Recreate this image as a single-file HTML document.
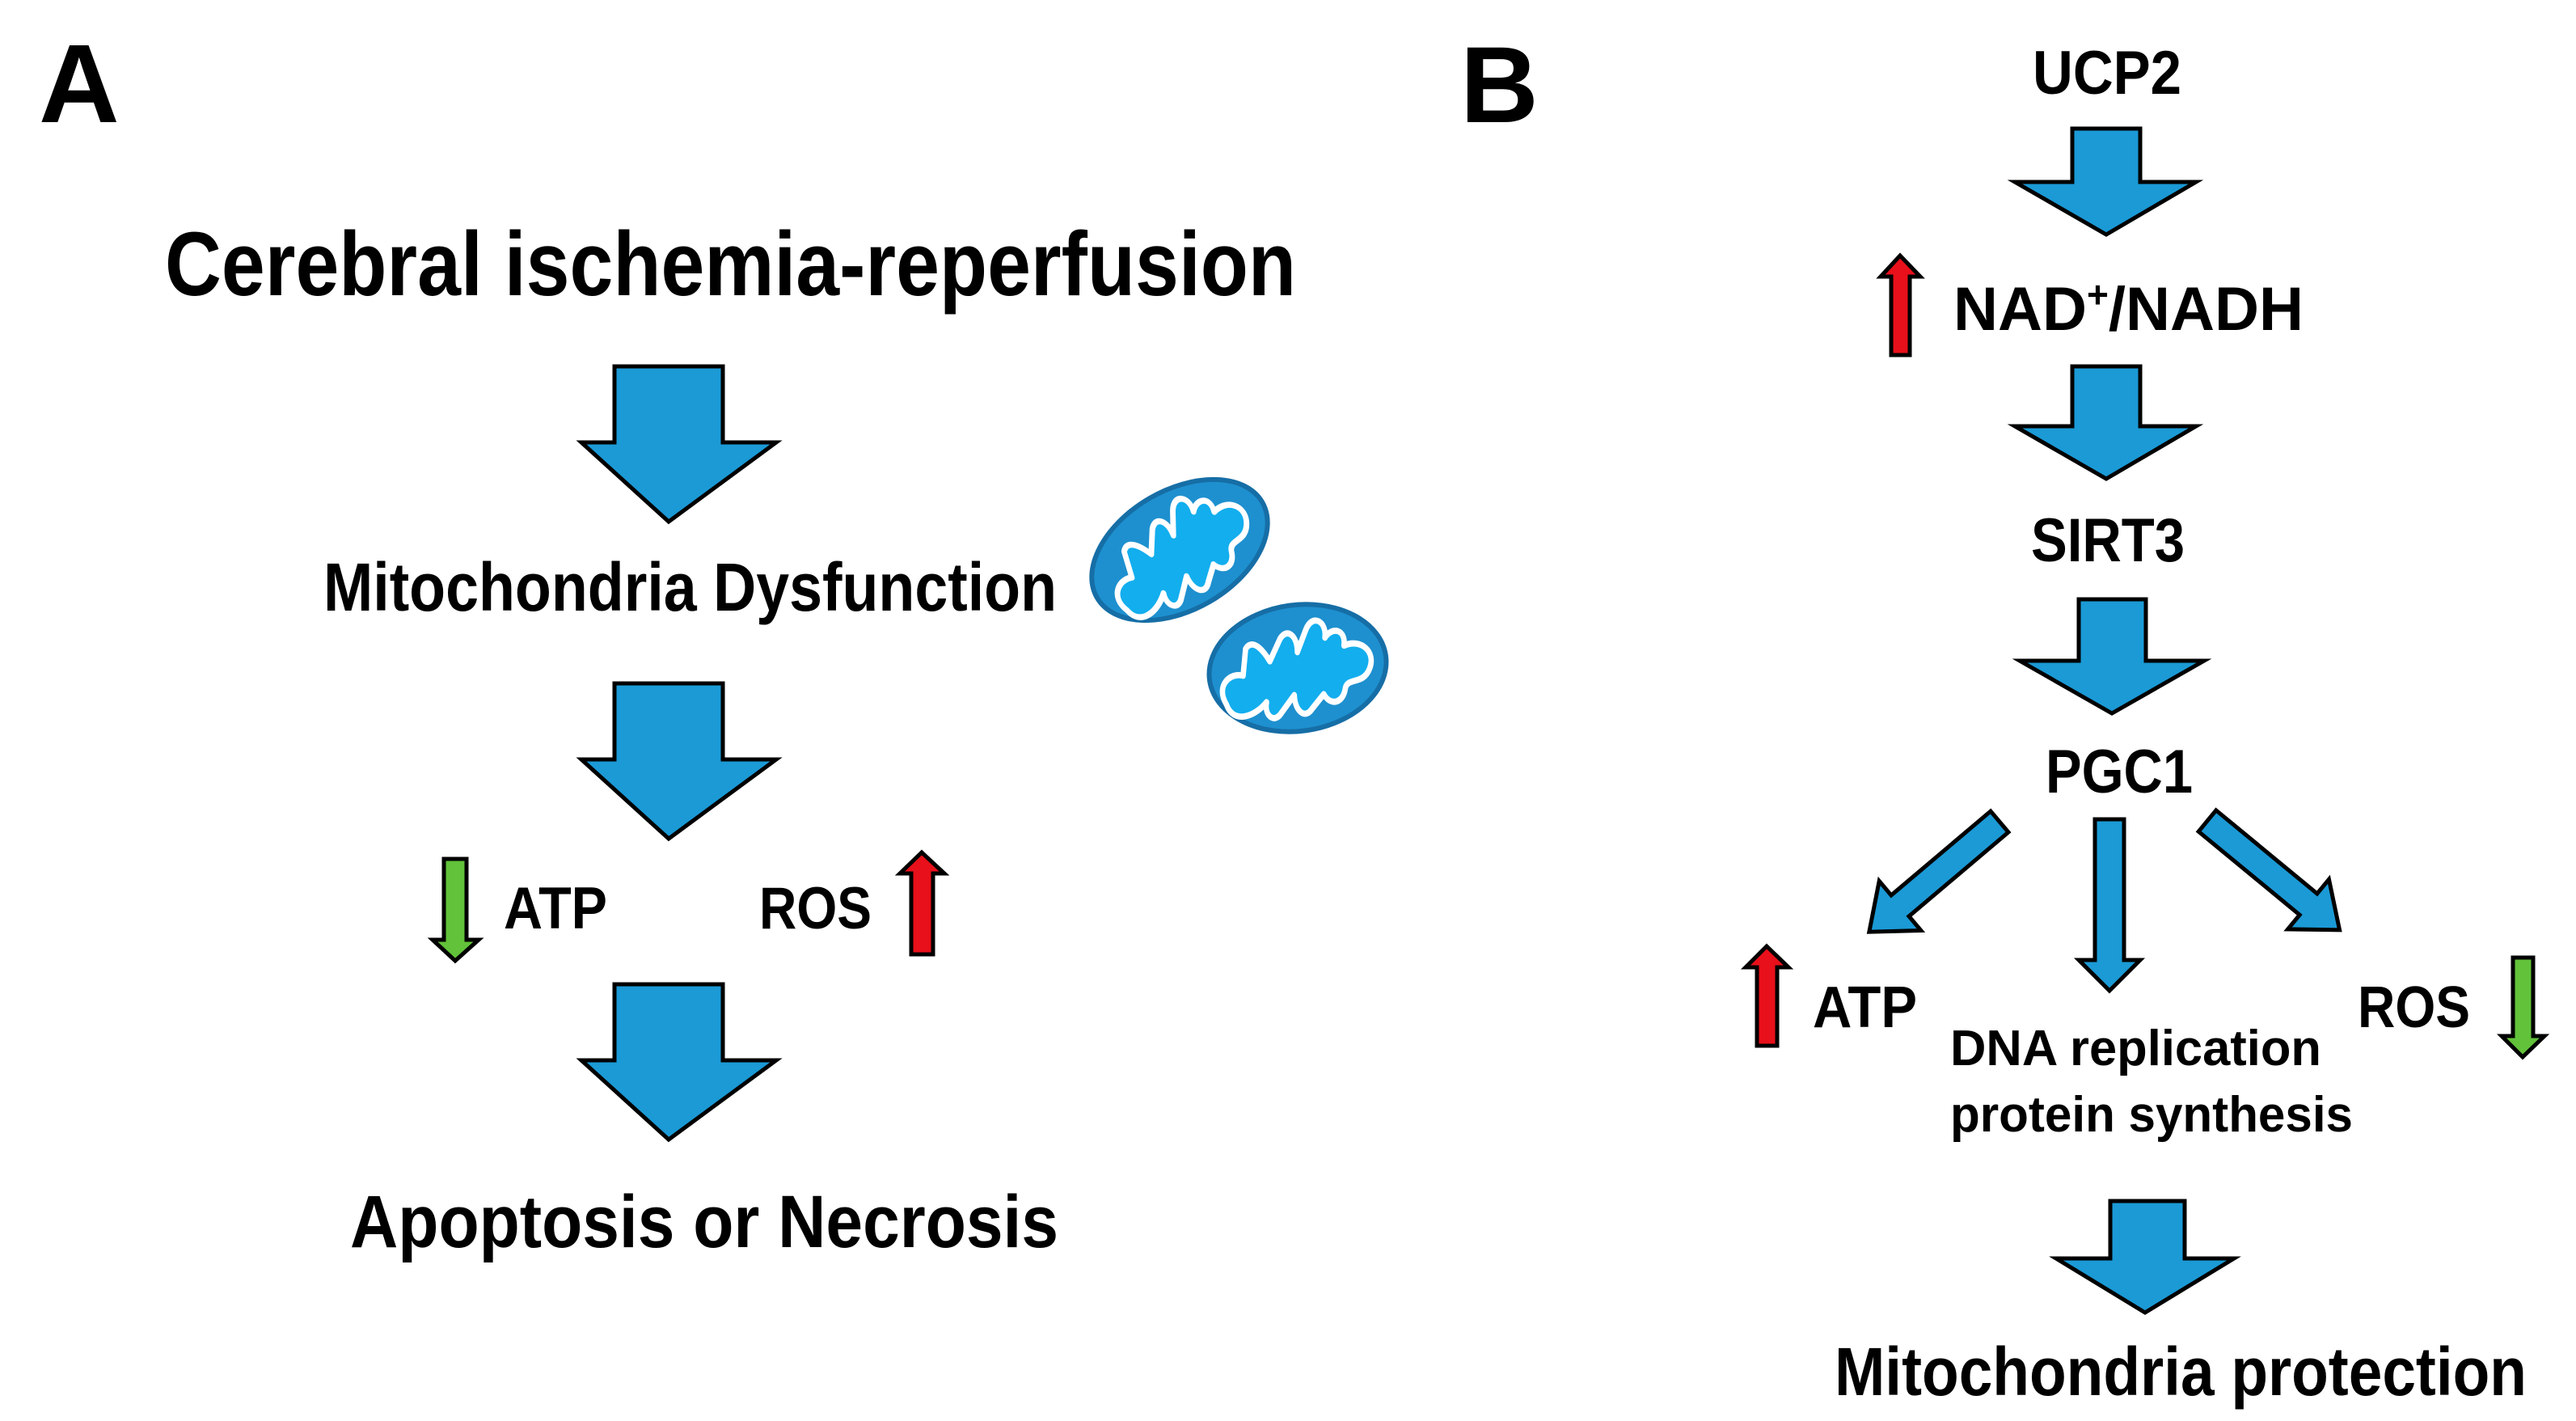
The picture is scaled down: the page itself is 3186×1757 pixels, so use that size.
<!DOCTYPE html>
<html><head><meta charset="utf-8"><style>
html,body{margin:0;padding:0;background:#fff}
svg{display:block}
text{font-family:"Liberation Sans",sans-serif;font-weight:bold;fill:#000}
</style></head><body>
<svg width="3186" height="1757" viewBox="0 0 3186 1757" xmlns="http://www.w3.org/2000/svg">
<defs>
<g id="blob">
<path d="M-85,25 C-95,5 -75,-5 -62,0 L-55,-25 C-45,-35 -35,-20 -30,-10 L-15,-30 C-5,-40 5,-30 2,-15 L15,-35 C25,-50 40,-40 35,-25 C45,-35 60,-30 55,-15 C75,-20 90,-5 80,10 C70,25 55,15 50,25 C45,40 30,40 25,28 L10,40 C0,50 -10,40 -8,25 L-25,40 C-35,50 -45,40 -40,28 C-55,40 -80,45 -85,25 Z" fill="#13aeee" stroke="#fff" stroke-width="6" stroke-linejoin="round" transform="scale(1.1,1.3)"/>
</g>
</defs>
<g stroke="#000" stroke-width="5" stroke-linejoin="miter" fill="#1b9ad6">
<polygon points="760,453 894,453 894,547 960,547 827,645 719,547 760,547"/>
<polygon points="760,845 894,845 894,939 960,939 827,1037 719,939 760,939"/>
<polygon points="760,1217 894,1217 894,1311 960,1311 827,1409 719,1311 760,1311"/>
</g>
<g stroke="#000" stroke-width="5">
<polygon fill="#62c23a" points="549,1062 577,1062 577,1162 592,1162 563,1188 535,1162 549,1162"/>
<polygon fill="#e8101a" points="1127,1180 1154,1180 1154,1080 1168,1080 1140,1054 1113,1080 1127,1080"/>
</g>
<g transform="translate(1459,680) rotate(-30)">
<ellipse cx="0" cy="0" rx="118" ry="74" fill="#1e90cf" stroke="#166ea6" stroke-width="6"/>
<use href="#blob"/>
</g>
<g transform="translate(1605,826) rotate(-8)">
<ellipse cx="0" cy="0" rx="110" ry="78" fill="#1e90cf" stroke="#166ea6" stroke-width="6"/>
<use href="#blob"/>
</g>
<text x="48" y="151" font-size="138">A</text>
<text x="204" y="365" font-size="112" textLength="1399" lengthAdjust="spacingAndGlyphs">Cerebral ischemia-reperfusion</text>
<text x="400" y="755" font-size="84" textLength="907" lengthAdjust="spacingAndGlyphs">Mitochondria Dysfunction</text>
<text x="623" y="1148" font-size="73" textLength="128" lengthAdjust="spacingAndGlyphs">ATP</text>
<text x="939" y="1148" font-size="73" textLength="139" lengthAdjust="spacingAndGlyphs">ROS</text>
<text x="433" y="1542" font-size="92" textLength="876" lengthAdjust="spacingAndGlyphs">Apoptosis or Necrosis</text>

<g transform="translate(-14,0)">
<g stroke="#000" stroke-width="5" stroke-linejoin="miter" fill="#1b9ad6">
<polygon points="2577,159 2661,159 2661,225 2730,225 2619,290 2506,225 2577,225"/>
<polygon points="2577,453 2661,453 2661,527 2730,527 2619,592 2506,527 2577,527"/>
<polygon points="2585,741 2668,741 2668,817 2740,817 2626,882 2512,817 2585,817"/>
<polygon points="2624,1485 2716,1485 2716,1556 2777,1556 2667,1623 2557,1556 2624,1556"/>
<polygon points="2605,1013 2641,1013 2641,1187 2661,1187 2623,1225 2585,1187 2605,1187"/>
<g transform="translate(2487,1016) rotate(139.8)"><polygon points="0,-17 161,-17 161,-40 211,0 161,40 161,17 0,17"/></g>
<g transform="translate(2744,1015) rotate(39.5)"><polygon points="0,-17 162,-17 162,-40 212,0 162,40 162,17 0,17"/></g>
</g>
<g stroke="#000" stroke-width="5">
<polygon fill="#e8101a" points="2353,439 2376,439 2376,342 2389,342 2364,316 2340,342 2353,342"/>
<polygon fill="#e8101a" points="2187,1293 2212,1293 2212,1196 2226,1196 2199,1170 2173,1196 2187,1196"/>
<polygon fill="#62c23a" points="3122,1184 3147,1184 3147,1281 3161,1281 3134,1307 3108,1281 3122,1281"/>
</g>
<text x="1820" y="151" font-size="134">B</text>
<text x="2528" y="116" font-size="76" textLength="184" lengthAdjust="spacingAndGlyphs">UCP2</text>
<text x="2430" y="408" font-size="76" textLength="433" lengthAdjust="spacingAndGlyphs">NAD<tspan font-size="46" dy="-28">+</tspan><tspan dy="28">/NADH</tspan></text>
<text x="2526" y="694" font-size="76" textLength="190" lengthAdjust="spacingAndGlyphs">SIRT3</text>
<text x="2544" y="980" font-size="76" textLength="182" lengthAdjust="spacingAndGlyphs">PGC1</text>
<text x="2256" y="1270" font-size="72" textLength="129" lengthAdjust="spacingAndGlyphs">ATP</text>
<text x="2930" y="1270" font-size="72" textLength="139" lengthAdjust="spacingAndGlyphs">ROS</text>
<text x="2426" y="1317" font-size="62" textLength="459" lengthAdjust="spacingAndGlyphs">DNA replication</text>
<text x="2426" y="1399" font-size="62" textLength="498" lengthAdjust="spacingAndGlyphs">protein synthesis</text>
<text x="2283" y="1725" font-size="84" textLength="856" lengthAdjust="spacingAndGlyphs">Mitochondria protection</text>
</g>
</svg>
</body></html>
